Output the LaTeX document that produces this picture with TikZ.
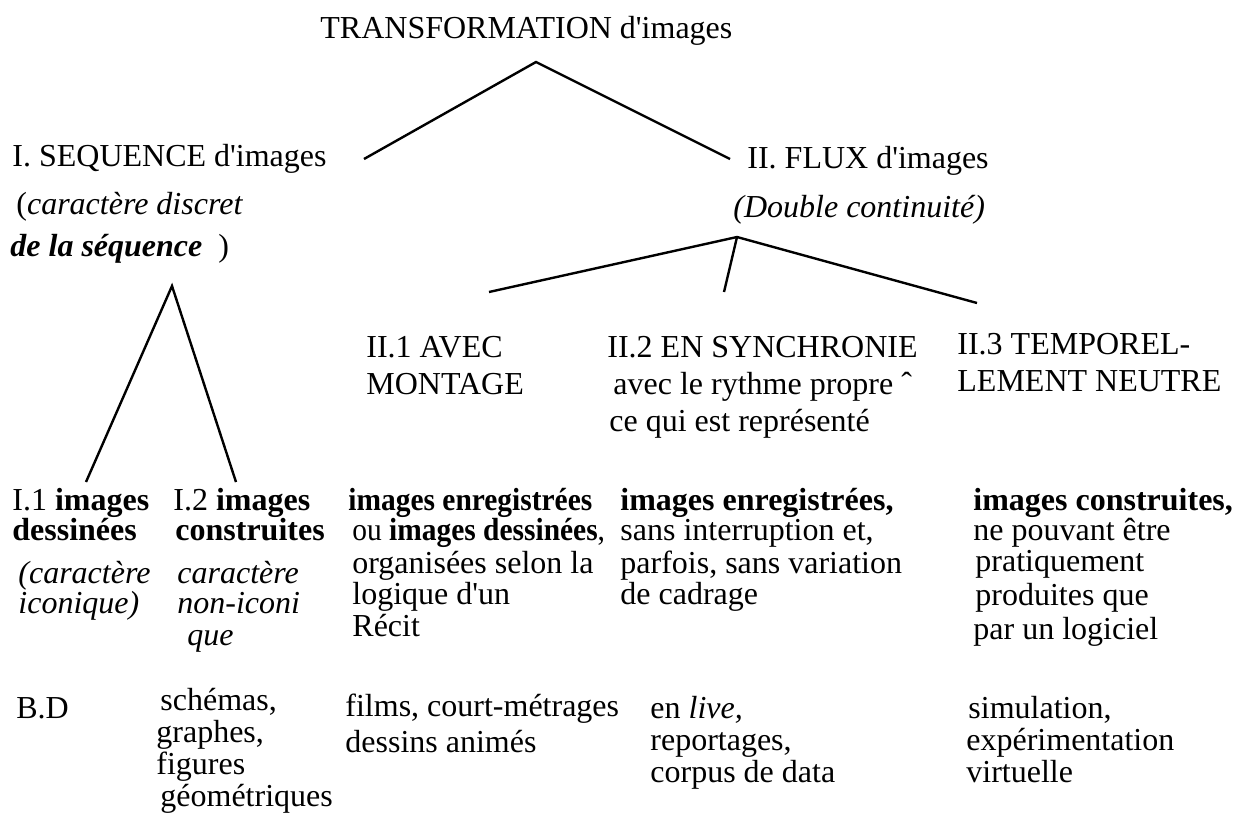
\documentclass[tikz,border=0pt]{standalone}
\usepackage{fontspec}
\setmainfont{Liberation Serif}
\newfontfamily\narrowserif[FakeStretch=0.92]{Liberation Serif}

% several lines, baseline on the first one
\newcommand{\lines}[1]{\begin{tabular}[t]{@{}l@{}}#1\end{tabular}}
\newcommand{\ap}{\textquotesingle}

\tikzset{
  txt/.style={anchor=base west, inner sep=0pt,
    font=\fontsize{16}{18.5}\selectfont},
  mid/.style={txt, font=\fontsize{16}{17.5}\selectfont},
  low/.style={txt, font=\fontsize{16}{16}\selectfont},
  branch/.style={line width=1.2pt}
}

\begin{document}
\begin{tikzpicture}[x=0.5pt, y=-0.5pt]
  \useasboundingbox (0,0) rectangle (1240,814);

  % Root
  \node[txt] (root) at (320,38) {TRANSFORMATION d\ap images};

  % Level 1
  \node[txt] (seq) at (12,166) {I. SEQUENCE d\ap images};
  \node[txt] (seqnote) at (16,214) {\lines{(\textit{caractère discret}\\[2.5pt]
    \hspace*{-3pt}\textbf{\textit{de la séquence}}\ \ )}};
  \node[txt] (flux) at (747,168) {II. FLUX d\ap images};
  \node[txt] (fluxnote) at (733,217) {\textit{(Double continuité)}};

  % Level 2 (flux)
  \node[txt] (montage) at (366,357) {\lines{II.1 AVEC\\MONTAGE}};
  \node[txt] (synchro) at (607,357) {\lines{II.2 EN SYNCHRONIE\\
    \hspace*{3pt}avec le rythme propre ˆ\\ \hspace*{1pt}ce qui est représenté}};
  \node[txt] (neutre) at (957,354) {\lines{II.3 TEMPOREL-\\LEMENT NEUTRE}};

  % Level 3
  \node[mid] (dessin) at (12,510) {\lines{I.1 \textbf{images}\\[-2.5pt]\textbf{dessinées}\\[4pt]
    \hspace*{3pt}\textit{(caractère}\\[-2.5pt]\hspace*{3pt}\textit{iconique)}}};
  \node[mid] (constr) at (173,510) {\lines{I.2 \textbf{images}\\[-2.5pt]
    \hspace*{1pt}\textbf{construites}\\[4pt]
    \hspace*{2pt}\textit{caractère}\\[-2.5pt]\hspace*{2pt}\textit{non-iconi}\\[-1.5pt]
    \hspace*{7pt}\textit{que}}};
  \node[mid] (recit) at (348,510) {\lines{{\narrowserif\textbf{images enregistrées}}\\[-2.5pt]
    \hspace*{2pt}{\narrowserif ou \textbf{images dessinées},}\\[-1pt]
    \hspace*{2pt}organisées selon la\\[-2pt] \hspace*{2pt}logique d\ap un\\[-1.5pt]
    \hspace*{2pt}Récit}};
  \node[mid] (enreg) at (620,510) {\lines{\textbf{images enregistrées,}\\[-2.5pt]
    sans interruption et,\\[-1pt] parfois, sans variation\\[-2pt] de cadrage}};
  \node[mid] (logiciel) at (973,510) {\lines{\textbf{images construites,}\\[-2.5pt]
    ne pouvant être\\[-2pt] \hspace*{1pt}pratiquement\\[-0.5pt]
    \hspace*{1pt}produites que\\[-0.5pt] par un logiciel}};

  % Examples
  \node[low] (bd) at (16,718) {B.D};
  \node[low] (schemas) at (156,710) {\lines{\hspace*{2pt}schémas,\\graphes,\\figures\\
    \hspace*{2pt}géométriques}};
  \node[low] (films) at (345,716) {\lines{films, court-métrages\\[2pt]dessins animés}};
  \node[low] (live) at (650,718) {\lines{en \textit{live,}\\reportages,\\corpus de data}};
  \node[low] (simul) at (966,718) {\lines{\hspace*{1pt}simulation,\\expérimentation\\virtuelle}};

  % Branches
  \coordinate (apexA) at (536,62);
  \coordinate (endA1) at (364,159);
  \coordinate (endA2) at (730,159);
  \coordinate (apexB) at (737,237);
  \coordinate (endB1) at (489,292);
  \coordinate (endB2) at (724,292);
  \coordinate (endB3) at (977,303);
  \coordinate (apexC) at (172,286);
  \coordinate (endC1) at (86,482);
  \coordinate (endC2) at (236,482);

  \draw[branch] (endA1) -- (apexA) -- (endA2);
  \draw[branch] (endB1) -- (apexB) -- (endB3);
  \draw[branch] (apexB) -- (endB2);
  \draw[branch] (endC1) -- (apexC) -- (endC2);
\end{tikzpicture}
\end{document}
